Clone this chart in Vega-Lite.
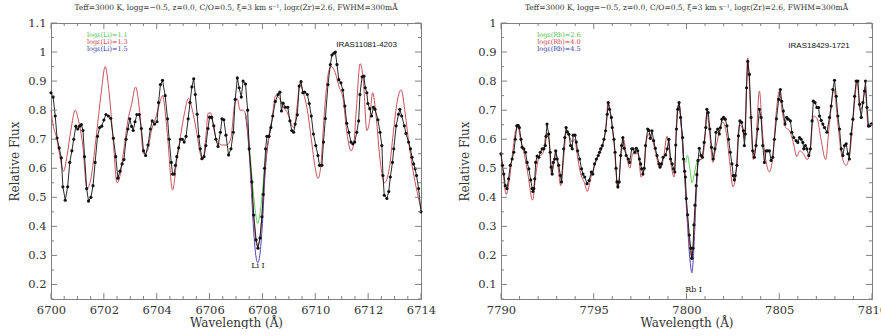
{
  "$schema": "https://vega.github.io/schema/vega-lite/v6.json",
  "background": "white",
  "padding": {"left": 8, "top": 3, "right": 0, "bottom": 0},
  "bounds": "flush",
  "spacing": 80,
  "datasets": {
    "tXL": [{"v":6700},{"v":6700.5},{"v":6701},{"v":6701.5},{"v":6702},{"v":6702.5},{"v":6703},{"v":6703.5},{"v":6704},{"v":6704.5},{"v":6705},{"v":6705.5},{"v":6706},{"v":6706.5},{"v":6707},{"v":6707.5},{"v":6708},{"v":6708.5},{"v":6709},{"v":6709.5},{"v":6710},{"v":6710.5},{"v":6711},{"v":6711.5},{"v":6712},{"v":6712.5},{"v":6713},{"v":6713.5},{"v":6714}],
    "tYL": [{"v":0.15},{"v":0.2},{"v":0.25},{"v":0.3},{"v":0.35},{"v":0.4},{"v":0.45},{"v":0.5},{"v":0.55},{"v":0.6},{"v":0.65},{"v":0.7},{"v":0.75},{"v":0.8},{"v":0.85},{"v":0.9},{"v":0.95},{"v":1},{"v":1.05},{"v":1.1}],
    "tXR": [{"v":7790},{"v":7791},{"v":7792},{"v":7793},{"v":7794},{"v":7795},{"v":7796},{"v":7797},{"v":7798},{"v":7799},{"v":7800},{"v":7801},{"v":7802},{"v":7803},{"v":7804},{"v":7805},{"v":7806},{"v":7807},{"v":7808},{"v":7809},{"v":7810}],
    "tYR": [{"v":0.05},{"v":0.1},{"v":0.15},{"v":0.2},{"v":0.25},{"v":0.3},{"v":0.35},{"v":0.4},{"v":0.45},{"v":0.5},{"v":0.55},{"v":0.6},{"v":0.65},{"v":0.7},{"v":0.75},{"v":0.8},{"v":0.85},{"v":0.9},{"v":0.95},{"v":1}],
    "obsL": [
      {"w":6700.00,"f":0.86},{"w":6700.08,"f":0.845},{"w":6700.16,"f":0.78},{"w":6700.23,"f":0.704},{"w":6700.31,"f":0.67},{"w":6700.39,"f":0.636},{"w":6700.45,"f":0.536},{"w":6700.54,"f":0.49},{"w":6700.63,"f":0.536},{"w":6700.71,"f":0.62},{"w":6700.79,"f":0.66},{"w":6700.86,"f":0.70},{"w":6700.94,"f":0.745},{"w":6701.01,"f":0.735},{"w":6701.08,"f":0.745},{"w":6701.15,"f":0.75},{"w":6701.21,"f":0.73},{"w":6701.27,"f":0.64},{"w":6701.35,"f":0.53},{"w":6701.42,"f":0.487},{"w":6701.51,"f":0.50},{"w":6701.59,"f":0.54},{"w":6701.67,"f":0.62},{"w":6701.76,"f":0.71},{"w":6701.84,"f":0.74},{"w":6701.92,"f":0.745},{"w":6702.00,"f":0.766},{"w":6702.08,"f":0.785},{"w":6702.17,"f":0.78},{"w":6702.26,"f":0.772},{"w":6702.36,"f":0.703},{"w":6702.45,"f":0.64},{"w":6702.53,"f":0.566},{"w":6702.61,"f":0.59},{"w":6702.69,"f":0.615},{"w":6702.76,"f":0.63},{"w":6702.84,"f":0.70},{"w":6702.91,"f":0.735},{"w":6702.98,"f":0.77},{"w":6703.05,"f":0.744},{"w":6703.11,"f":0.73},{"w":6703.18,"f":0.76},{"w":6703.25,"f":0.785},{"w":6703.34,"f":0.785},{"w":6703.42,"f":0.737},{"w":6703.50,"f":0.66},{"w":6703.58,"f":0.644},{"w":6703.67,"f":0.68},{"w":6703.76,"f":0.735},{"w":6703.83,"f":0.763},{"w":6703.92,"f":0.752},{"w":6704.01,"f":0.76},{"w":6704.07,"f":0.826},{"w":6704.14,"f":0.888},{"w":6704.22,"f":0.903},{"w":6704.32,"f":0.85},{"w":6704.41,"f":0.77},{"w":6704.47,"f":0.70},{"w":6704.55,"f":0.62},{"w":6704.60,"f":0.58},{"w":6704.66,"f":0.58},{"w":6704.71,"f":0.61},{"w":6704.76,"f":0.64},{"w":6704.83,"f":0.67},{"w":6704.90,"f":0.70},{"w":6704.97,"f":0.70},{"w":6705.04,"f":0.69},{"w":6705.11,"f":0.71},{"w":6705.19,"f":0.77},{"w":6705.26,"f":0.826},{"w":6705.33,"f":0.88},{"w":6705.40,"f":0.908},{"w":6705.46,"f":0.854},{"w":6705.53,"f":0.786},{"w":6705.59,"f":0.71},{"w":6705.65,"f":0.667},{"w":6705.71,"f":0.633},{"w":6705.79,"f":0.64},{"w":6705.86,"f":0.678},{"w":6705.94,"f":0.737},{"w":6706.00,"f":0.776},{"w":6706.08,"f":0.775},{"w":6706.16,"f":0.746},{"w":6706.24,"f":0.70},{"w":6706.32,"f":0.675},{"w":6706.41,"f":0.724},{"w":6706.47,"f":0.77},{"w":6706.54,"f":0.767},{"w":6706.62,"f":0.714},{"w":6706.72,"f":0.646},{"w":6706.81,"f":0.667},{"w":6706.90,"f":0.724},{"w":6706.97,"f":0.837},{"w":6707.05,"f":0.911},{"w":6707.12,"f":0.877},{"w":6707.20,"f":0.845},{"w":6707.27,"f":0.90},{"w":6707.36,"f":0.89},{"w":6707.44,"f":0.80},{"w":6707.50,"f":0.667},{"w":6707.60,"f":0.553},{"w":6707.67,"f":0.439},{"w":6707.76,"f":0.354},{"w":6707.83,"f":0.325},{"w":6707.91,"f":0.36},{"w":6707.98,"f":0.433},{"w":6708.03,"f":0.51},{"w":6708.08,"f":0.60},{"w":6708.12,"f":0.667},{"w":6708.17,"f":0.71},{"w":6708.25,"f":0.71},{"w":6708.32,"f":0.74},{"w":6708.39,"f":0.78},{"w":6708.49,"f":0.83},{"w":6708.59,"f":0.854},{"w":6708.66,"f":0.862},{"w":6708.72,"f":0.797},{"w":6708.78,"f":0.824},{"w":6708.87,"f":0.81},{"w":6708.96,"f":0.81},{"w":6709.04,"f":0.763},{"w":6709.11,"f":0.73},{"w":6709.18,"f":0.724},{"w":6709.24,"f":0.752},{"w":6709.32,"f":0.784},{"w":6709.39,"f":0.883},{"w":6709.46,"f":0.898},{"w":6709.53,"f":0.86},{"w":6709.60,"f":0.862},{"w":6709.70,"f":0.854},{"w":6709.77,"f":0.823},{"w":6709.85,"f":0.78},{"w":6709.93,"f":0.718},{"w":6710.02,"f":0.678},{"w":6710.10,"f":0.644},{"w":6710.16,"f":0.61},{"w":6710.25,"f":0.61},{"w":6710.31,"f":0.69},{"w":6710.38,"f":0.771},{"w":6710.48,"f":0.888},{"w":6710.57,"f":0.957},{"w":6710.63,"f":0.99},{"w":6710.70,"f":0.996},{"w":6710.76,"f":1.0},{"w":6710.82,"f":0.957},{"w":6710.89,"f":0.905},{"w":6710.97,"f":0.894},{"w":6711.04,"f":0.869},{"w":6711.12,"f":0.814},{"w":6711.19,"f":0.755},{"w":6711.27,"f":0.724},{"w":6711.35,"f":0.69},{"w":6711.42,"f":0.684},{"w":6711.49,"f":0.69},{"w":6711.57,"f":0.724},{"w":6711.64,"f":0.763},{"w":6711.69,"f":0.854},{"w":6711.77,"f":0.915},{"w":6711.84,"f":0.917},{"w":6711.89,"f":0.877},{"w":6711.95,"f":0.86},{"w":6711.99,"f":0.823},{"w":6712.06,"f":0.805},{"w":6712.13,"f":0.78},{"w":6712.20,"f":0.81},{"w":6712.26,"f":0.803},{"w":6712.37,"f":0.767},{"w":6712.45,"f":0.724},{"w":6712.52,"f":0.678},{"w":6712.56,"f":0.575},{"w":6712.61,"f":0.507},{"w":6712.71,"f":0.496},{"w":6712.78,"f":0.52},{"w":6712.84,"f":0.57},{"w":6712.92,"f":0.62},{"w":6712.97,"f":0.667},{"w":6713.06,"f":0.746},{"w":6713.15,"f":0.786},{"w":6713.20,"f":0.803},{"w":6713.27,"f":0.78},{"w":6713.37,"f":0.746},{"w":6713.43,"f":0.72},{"w":6713.53,"f":0.69},{"w":6713.60,"f":0.667},{"w":6713.66,"f":0.638},{"w":6713.72,"f":0.615},{"w":6713.78,"f":0.598},{"w":6713.83,"f":0.575},{"w":6713.91,"f":0.53},{"w":6714.00,"f":0.45}
    ],
    "modL": [
      {"m":"g","w":6707.35,"f":0.79},{"m":"g","w":6707.45,"f":0.73},{"m":"g","w":6707.55,"f":0.63},{"m":"g","w":6707.65,"f":0.52},{"m":"g","w":6707.75,"f":0.44},{"m":"g","w":6707.82,"f":0.41},{"m":"g","w":6707.90,"f":0.44},{"m":"g","w":6708.00,"f":0.52},{"m":"g","w":6708.10,"f":0.62},{"m":"g","w":6708.20,"f":0.68},{"m":"g","w":6708.35,"f":0.76},
      {"m":"b","w":6707.35,"f":0.79},{"m":"b","w":6707.45,"f":0.71},{"m":"b","w":6707.55,"f":0.58},{"m":"b","w":6707.65,"f":0.41},{"m":"b","w":6707.75,"f":0.30},{"m":"b","w":6707.82,"f":0.275},{"m":"b","w":6707.90,"f":0.30},{"m":"b","w":6708.00,"f":0.41},{"m":"b","w":6708.10,"f":0.58},{"m":"b","w":6708.20,"f":0.68},{"m":"b","w":6708.35,"f":0.76},
      {"m":"r","w":6700.00,"f":0.80},{"m":"r","w":6700.10,"f":0.74},{"m":"r","w":6700.20,"f":0.71},{"m":"r","w":6700.30,"f":0.66},{"m":"r","w":6700.48,"f":0.59},{"m":"r","w":6700.60,"f":0.64},{"m":"r","w":6700.75,"f":0.73},{"m":"r","w":6700.92,"f":0.80},{"m":"r","w":6701.05,"f":0.76},{"m":"r","w":6701.20,"f":0.68},{"m":"r","w":6701.36,"f":0.53},{"m":"r","w":6701.50,"f":0.56},{"m":"r","w":6701.70,"f":0.70},{"m":"r","w":6701.90,"f":0.86},{"m":"r","w":6702.05,"f":0.95},{"m":"r","w":6702.20,"f":0.86},{"m":"r","w":6702.35,"f":0.70},{"m":"r","w":6702.50,"f":0.55},{"m":"r","w":6702.60,"f":0.57},{"m":"r","w":6702.75,"f":0.66},{"m":"r","w":6702.90,"f":0.76},{"m":"r","w":6703.05,"f":0.82},{"m":"r","w":6703.20,"f":0.88},{"m":"r","w":6703.35,"f":0.80},{"m":"r","w":6703.50,"f":0.65},{"m":"r","w":6703.65,"f":0.66},{"m":"r","w":6703.80,"f":0.73},{"m":"r","w":6703.95,"f":0.77},{"m":"r","w":6704.10,"f":0.82},{"m":"r","w":6704.22,"f":0.85},{"m":"r","w":6704.40,"f":0.72},{"m":"r","w":6704.60,"f":0.525},{"m":"r","w":6704.75,"f":0.62},{"m":"r","w":6704.90,"f":0.71},{"m":"r","w":6705.05,"f":0.79},{"m":"r","w":6705.20,"f":0.84},{"m":"r","w":6705.35,"f":0.80},{"m":"r","w":6705.50,"f":0.73},{"m":"r","w":6705.65,"f":0.65},{"m":"r","w":6705.75,"f":0.63},{"m":"r","w":6705.85,"f":0.70},{"m":"r","w":6705.95,"f":0.79},{"m":"r","w":6706.05,"f":0.79},{"m":"r","w":6706.15,"f":0.74},{"m":"r","w":6706.30,"f":0.69},{"m":"r","w":6706.50,"f":0.68},{"m":"r","w":6706.65,"f":0.68},{"m":"r","w":6706.80,"f":0.70},{"m":"r","w":6706.95,"f":0.82},{"m":"r","w":6707.05,"f":0.84},{"m":"r","w":6707.15,"f":0.80},{"m":"r","w":6707.25,"f":0.80},{"m":"r","w":6707.35,"f":0.79},{"m":"r","w":6707.45,"f":0.72},{"m":"r","w":6707.55,"f":0.60},{"m":"r","w":6707.65,"f":0.46},{"m":"r","w":6707.75,"f":0.35},{"m":"r","w":6707.82,"f":0.33},{"m":"r","w":6707.90,"f":0.36},{"m":"r","w":6708.00,"f":0.46},{"m":"r","w":6708.10,"f":0.60},{"m":"r","w":6708.20,"f":0.68},{"m":"r","w":6708.35,"f":0.76},{"m":"r","w":6708.50,"f":0.85},{"m":"r","w":6708.65,"f":0.84},{"m":"r","w":6708.80,"f":0.81},{"m":"r","w":6708.95,"f":0.79},{"m":"r","w":6709.10,"f":0.75},{"m":"r","w":6709.20,"f":0.74},{"m":"r","w":6709.32,"f":0.82},{"m":"r","w":6709.42,"f":0.89},{"m":"r","w":6709.55,"f":0.86},{"m":"r","w":6709.70,"f":0.80},{"m":"r","w":6709.85,"f":0.70},{"m":"r","w":6710.00,"f":0.60},{"m":"r","w":6710.10,"f":0.565},{"m":"r","w":6710.20,"f":0.60},{"m":"r","w":6710.35,"f":0.80},{"m":"r","w":6710.50,"f":0.93},{"m":"r","w":6710.60,"f":0.95},{"m":"r","w":6710.75,"f":0.93},{"m":"r","w":6710.90,"f":0.88},{"m":"r","w":6711.05,"f":0.84},{"m":"r","w":6711.20,"f":0.72},{"m":"r","w":6711.35,"f":0.66},{"m":"r","w":6711.45,"f":0.68},{"m":"r","w":6711.55,"f":0.80},{"m":"r","w":6711.70,"f":0.96},{"m":"r","w":6711.82,"f":0.90},{"m":"r","w":6711.95,"f":0.73},{"m":"r","w":6712.05,"f":0.76},{"m":"r","w":6712.17,"f":0.86},{"m":"r","w":6712.30,"f":0.78},{"m":"r","w":6712.45,"f":0.63},{"m":"r","w":6712.62,"f":0.55},{"m":"r","w":6712.80,"f":0.60},{"m":"r","w":6712.95,"f":0.72},{"m":"r","w":6713.10,"f":0.83},{"m":"r","w":6713.25,"f":0.87},{"m":"r","w":6713.40,"f":0.79},{"m":"r","w":6713.55,"f":0.68},{"m":"r","w":6713.70,"f":0.59},{"m":"r","w":6713.85,"f":0.52},{"m":"r","w":6714.00,"f":0.46}
    ],
    "obsR": [
      {"w":7790.00,"f":0.55},{"w":7790.08,"f":0.51},{"w":7790.15,"f":0.48},{"w":7790.23,"f":0.44},{"w":7790.32,"f":0.43},{"w":7790.41,"f":0.464},{"w":7790.50,"f":0.51},{"w":7790.60,"f":0.532},{"w":7790.69,"f":0.555},{"w":7790.77,"f":0.60},{"w":7790.85,"f":0.646},{"w":7790.92,"f":0.648},{"w":7790.99,"f":0.64},{"w":7791.08,"f":0.60},{"w":7791.14,"f":0.572},{"w":7791.23,"f":0.567},{"w":7791.32,"f":0.555},{"w":7791.41,"f":0.52},{"w":7791.50,"f":0.498},{"w":7791.60,"f":0.46},{"w":7791.68,"f":0.43},{"w":7791.72,"f":0.42},{"w":7791.77,"f":0.43},{"w":7791.82,"f":0.464},{"w":7791.87,"f":0.52},{"w":7791.95,"f":0.542},{"w":7792.04,"f":0.538},{"w":7792.12,"f":0.555},{"w":7792.22,"f":0.567},{"w":7792.31,"f":0.567},{"w":7792.39,"f":0.578},{"w":7792.43,"f":0.61},{"w":7792.48,"f":0.652},{"w":7792.57,"f":0.618},{"w":7792.65,"f":0.555},{"w":7792.70,"f":0.504},{"w":7792.76,"f":0.48},{"w":7792.82,"f":0.52},{"w":7792.89,"f":0.532},{"w":7792.95,"f":0.56},{"w":7793.03,"f":0.532},{"w":7793.11,"f":0.51},{"w":7793.20,"f":0.475},{"w":7793.26,"f":0.453},{"w":7793.38,"f":0.567},{"w":7793.44,"f":0.606},{"w":7793.51,"f":0.64},{"w":7793.58,"f":0.625},{"w":7793.66,"f":0.617},{"w":7793.75,"f":0.578},{"w":7793.84,"f":0.567},{"w":7793.89,"f":0.614},{"w":7793.99,"f":0.614},{"w":7794.06,"f":0.59},{"w":7794.13,"f":0.56},{"w":7794.24,"f":0.532},{"w":7794.34,"f":0.498},{"w":7794.42,"f":0.48},{"w":7794.51,"f":0.47},{"w":7794.64,"f":0.447},{"w":7794.75,"f":0.458},{"w":7794.87,"f":0.487},{"w":7794.95,"f":0.48},{"w":7795.04,"f":0.515},{"w":7795.14,"f":0.532},{"w":7795.24,"f":0.544},{"w":7795.31,"f":0.555},{"w":7795.37,"f":0.567},{"w":7795.46,"f":0.578},{"w":7795.55,"f":0.60},{"w":7795.64,"f":0.629},{"w":7795.73,"f":0.686},{"w":7795.78,"f":0.726},{"w":7795.85,"f":0.703},{"w":7795.95,"f":0.675},{"w":7796.00,"f":0.64},{"w":7796.09,"f":0.60},{"w":7796.15,"f":0.555},{"w":7796.20,"f":0.50},{"w":7796.25,"f":0.453},{"w":7796.30,"f":0.436},{"w":7796.37,"f":0.453},{"w":7796.45,"f":0.544},{"w":7796.50,"f":0.578},{"w":7796.57,"f":0.606},{"w":7796.64,"f":0.569},{"w":7796.75,"f":0.544},{"w":7796.86,"f":0.532},{"w":7796.93,"f":0.52},{"w":7797.05,"f":0.567},{"w":7797.12,"f":0.567},{"w":7797.21,"f":0.555},{"w":7797.30,"f":0.569},{"w":7797.37,"f":0.56},{"w":7797.46,"f":0.532},{"w":7797.53,"f":0.515},{"w":7797.58,"f":0.498},{"w":7797.65,"f":0.48},{"w":7797.72,"f":0.50},{"w":7797.79,"f":0.578},{"w":7797.91,"f":0.635},{"w":7797.98,"f":0.63},{"w":7798.05,"f":0.603},{"w":7798.14,"f":0.629},{"w":7798.23,"f":0.595},{"w":7798.32,"f":0.569},{"w":7798.41,"f":0.544},{"w":7798.52,"f":0.515},{"w":7798.58,"f":0.504},{"w":7798.65,"f":0.515},{"w":7798.74,"f":0.538},{"w":7798.87,"f":0.546},{"w":7798.96,"f":0.567},{"w":7799.05,"f":0.60},{"w":7799.14,"f":0.532},{"w":7799.23,"f":0.515},{"w":7799.30,"f":0.498},{"w":7799.37,"f":0.487},{"w":7799.42,"f":0.58},{"w":7799.46,"f":0.635},{"w":7799.53,"f":0.703},{"w":7799.60,"f":0.726},{"w":7799.68,"f":0.675},{"w":7799.79,"f":0.606},{"w":7799.84,"f":0.532},{"w":7799.90,"f":0.49},{"w":7799.94,"f":0.47},{"w":7799.99,"f":0.396},{"w":7800.06,"f":0.34},{"w":7800.15,"f":0.27},{"w":7800.23,"f":0.225},{"w":7800.29,"f":0.19},{"w":7800.35,"f":0.225},{"w":7800.40,"f":0.305},{"w":7800.46,"f":0.373},{"w":7800.52,"f":0.44},{"w":7800.56,"f":0.478},{"w":7800.62,"f":0.527},{"w":7800.69,"f":0.569},{"w":7800.78,"f":0.544},{"w":7800.86,"f":0.538},{"w":7800.95,"f":0.589},{"w":7801.04,"f":0.64},{"w":7801.10,"f":0.703},{"w":7801.17,"f":0.692},{"w":7801.26,"f":0.635},{"w":7801.35,"f":0.572},{"w":7801.44,"f":0.532},{"w":7801.53,"f":0.567},{"w":7801.59,"f":0.624},{"w":7801.68,"f":0.635},{"w":7801.77,"f":0.618},{"w":7801.83,"f":0.64},{"w":7801.91,"f":0.669},{"w":7802.00,"f":0.675},{"w":7802.09,"f":0.669},{"w":7802.18,"f":0.646},{"w":7802.27,"f":0.60},{"w":7802.36,"f":0.555},{"w":7802.45,"f":0.515},{"w":7802.52,"f":0.475},{"w":7802.58,"f":0.46},{"w":7802.63,"f":0.475},{"w":7802.72,"f":0.51},{"w":7802.80,"f":0.612},{"w":7802.88,"f":0.663},{"w":7802.97,"f":0.658},{"w":7803.07,"f":0.629},{"w":7803.12,"f":0.578},{"w":7803.17,"f":0.618},{"w":7803.24,"f":0.777},{"w":7803.30,"f":0.868},{"w":7803.39,"f":0.823},{"w":7803.48,"f":0.675},{"w":7803.57,"f":0.56},{"w":7803.66,"f":0.538},{"w":7803.75,"f":0.578},{"w":7803.84,"f":0.635},{"w":7803.93,"f":0.703},{"w":7804.02,"f":0.675},{"w":7804.11,"f":0.578},{"w":7804.20,"f":0.52},{"w":7804.29,"f":0.56},{"w":7804.38,"f":0.56},{"w":7804.47,"f":0.56},{"w":7804.56,"f":0.527},{"w":7804.65,"f":0.538},{"w":7804.74,"f":0.60},{"w":7804.85,"f":0.67},{"w":7804.97,"f":0.737},{"w":7805.06,"f":0.771},{"w":7805.13,"f":0.731},{"w":7805.22,"f":0.697},{"w":7805.31,"f":0.652},{"w":7805.40,"f":0.675},{"w":7805.49,"f":0.669},{"w":7805.60,"f":0.663},{"w":7805.68,"f":0.624},{"w":7805.78,"f":0.606},{"w":7805.91,"f":0.595},{"w":7806.00,"f":0.589},{"w":7806.09,"f":0.606},{"w":7806.18,"f":0.60},{"w":7806.27,"f":0.589},{"w":7806.32,"f":0.567},{"w":7806.41,"f":0.578},{"w":7806.49,"f":0.567},{"w":7806.59,"f":0.544},{"w":7806.68,"f":0.567},{"w":7806.77,"f":0.663},{"w":7806.84,"f":0.731},{"w":7806.93,"f":0.726},{"w":7807.03,"f":0.709},{"w":7807.12,"f":0.709},{"w":7807.17,"f":0.68},{"w":7807.26,"f":0.665},{"w":7807.35,"f":0.652},{"w":7807.44,"f":0.64},{"w":7807.57,"f":0.624},{"w":7807.71,"f":0.675},{"w":7807.80,"f":0.714},{"w":7807.89,"f":0.771},{"w":7807.98,"f":0.803},{"w":7808.07,"f":0.748},{"w":7808.16,"f":0.68},{"w":7808.25,"f":0.635},{"w":7808.34,"f":0.567},{"w":7808.43,"f":0.544},{"w":7808.52,"f":0.578},{"w":7808.61,"f":0.584},{"w":7808.70,"f":0.55},{"w":7808.78,"f":0.532},{"w":7808.87,"f":0.618},{"w":7808.97,"f":0.669},{"w":7809.06,"f":0.748},{"w":7809.15,"f":0.80},{"w":7809.24,"f":0.80},{"w":7809.33,"f":0.72},{"w":7809.42,"f":0.675},{"w":7809.51,"f":0.726},{"w":7809.60,"f":0.766},{"w":7809.65,"f":0.80},{"w":7809.73,"f":0.709},{"w":7809.81,"f":0.646},{"w":7809.88,"f":0.646},{"w":7809.95,"f":0.652}
    ],
    "modR": [
      {"m":"g","w":7799.50,"f":0.70},{"m":"g","w":7799.60,"f":0.72},{"m":"g","w":7799.75,"f":0.62},{"m":"g","w":7799.85,"f":0.53},{"m":"g","w":7799.95,"f":0.52},{"m":"g","w":7800.05,"f":0.545},{"m":"g","w":7800.18,"f":0.50},{"m":"g","w":7800.30,"f":0.45},{"m":"g","w":7800.42,"f":0.48},{"m":"g","w":7800.55,"f":0.52},{"m":"g","w":7800.65,"f":0.53},{"m":"g","w":7800.80,"f":0.53},
      {"m":"b","w":7799.50,"f":0.70},{"m":"b","w":7799.60,"f":0.72},{"m":"b","w":7799.75,"f":0.62},{"m":"b","w":7799.90,"f":0.47},{"m":"b","w":7800.05,"f":0.31},{"m":"b","w":7800.18,"f":0.19},{"m":"b","w":7800.29,"f":0.14},{"m":"b","w":7800.40,"f":0.23},{"m":"b","w":7800.52,"f":0.40},{"m":"b","w":7800.65,"f":0.53},{"m":"b","w":7800.80,"f":0.53},
      {"m":"r","w":7790.00,"f":0.55},{"m":"r","w":7790.12,"f":0.48},{"m":"r","w":7790.28,"f":0.41},{"m":"r","w":7790.45,"f":0.46},{"m":"r","w":7790.62,"f":0.55},{"m":"r","w":7790.80,"f":0.63},{"m":"r","w":7790.92,"f":0.64},{"m":"r","w":7791.05,"f":0.60},{"m":"r","w":7791.25,"f":0.55},{"m":"r","w":7791.45,"f":0.48},{"m":"r","w":7791.70,"f":0.39},{"m":"r","w":7791.88,"f":0.48},{"m":"r","w":7792.05,"f":0.54},{"m":"r","w":7792.25,"f":0.55},{"m":"r","w":7792.45,"f":0.62},{"m":"r","w":7792.58,"f":0.60},{"m":"r","w":7792.72,"f":0.48},{"m":"r","w":7792.85,"f":0.52},{"m":"r","w":7792.95,"f":0.56},{"m":"r","w":7793.05,"f":0.52},{"m":"r","w":7793.22,"f":0.44},{"m":"r","w":7793.40,"f":0.55},{"m":"r","w":7793.52,"f":0.63},{"m":"r","w":7793.68,"f":0.61},{"m":"r","w":7793.85,"f":0.59},{"m":"r","w":7793.98,"f":0.60},{"m":"r","w":7794.10,"f":0.55},{"m":"r","w":7794.30,"f":0.48},{"m":"r","w":7794.50,"f":0.45},{"m":"r","w":7794.65,"f":0.42},{"m":"r","w":7794.85,"f":0.47},{"m":"r","w":7795.05,"f":0.51},{"m":"r","w":7795.30,"f":0.55},{"m":"r","w":7795.50,"f":0.58},{"m":"r","w":7795.65,"f":0.64},{"m":"r","w":7795.78,"f":0.73},{"m":"r","w":7795.92,"f":0.68},{"m":"r","w":7796.10,"f":0.58},{"m":"r","w":7796.30,"f":0.43},{"m":"r","w":7796.48,"f":0.55},{"m":"r","w":7796.60,"f":0.60},{"m":"r","w":7796.75,"f":0.55},{"m":"r","w":7796.95,"f":0.50},{"m":"r","w":7797.10,"f":0.55},{"m":"r","w":7797.25,"f":0.55},{"m":"r","w":7797.40,"f":0.55},{"m":"r","w":7797.55,"f":0.47},{"m":"r","w":7797.70,"f":0.49},{"m":"r","w":7797.85,"f":0.60},{"m":"r","w":7798.00,"f":0.62},{"m":"r","w":7798.15,"f":0.60},{"m":"r","w":7798.35,"f":0.55},{"m":"r","w":7798.55,"f":0.50},{"m":"r","w":7798.75,"f":0.53},{"m":"r","w":7798.95,"f":0.61},{"m":"r","w":7799.15,"f":0.52},{"m":"r","w":7799.33,"f":0.47},{"m":"r","w":7799.50,"f":0.70},{"m":"r","w":7799.60,"f":0.72},{"m":"r","w":7799.75,"f":0.62},{"m":"r","w":7799.90,"f":0.48},{"m":"r","w":7800.05,"f":0.33},{"m":"r","w":7800.18,"f":0.23},{"m":"r","w":7800.29,"f":0.19},{"m":"r","w":7800.40,"f":0.27},{"m":"r","w":7800.52,"f":0.42},{"m":"r","w":7800.65,"f":0.53},{"m":"r","w":7800.80,"f":0.53},{"m":"r","w":7800.95,"f":0.57},{"m":"r","w":7801.10,"f":0.69},{"m":"r","w":7801.25,"f":0.62},{"m":"r","w":7801.42,"f":0.52},{"m":"r","w":7801.55,"f":0.56},{"m":"r","w":7801.75,"f":0.62},{"m":"r","w":7801.95,"f":0.66},{"m":"r","w":7802.15,"f":0.62},{"m":"r","w":7802.35,"f":0.51},{"m":"r","w":7802.50,"f":0.436},{"m":"r","w":7802.65,"f":0.47},{"m":"r","w":7802.85,"f":0.65},{"m":"r","w":7803.00,"f":0.64},{"m":"r","w":7803.12,"f":0.60},{"m":"r","w":7803.30,"f":0.88},{"m":"r","w":7803.45,"f":0.70},{"m":"r","w":7803.60,"f":0.53},{"m":"r","w":7803.75,"f":0.60},{"m":"r","w":7803.93,"f":0.766},{"m":"r","w":7804.10,"f":0.62},{"m":"r","w":7804.30,"f":0.52},{"m":"r","w":7804.47,"f":0.487},{"m":"r","w":7804.65,"f":0.54},{"m":"r","w":7804.85,"f":0.70},{"m":"r","w":7805.00,"f":0.766},{"m":"r","w":7805.15,"f":0.70},{"m":"r","w":7805.35,"f":0.64},{"m":"r","w":7805.55,"f":0.63},{"m":"r","w":7805.75,"f":0.59},{"m":"r","w":7805.95,"f":0.54},{"m":"r","w":7806.10,"f":0.56},{"m":"r","w":7806.30,"f":0.55},{"m":"r","w":7806.50,"f":0.53},{"m":"r","w":7806.65,"f":0.55},{"m":"r","w":7806.85,"f":0.68},{"m":"r","w":7807.05,"f":0.67},{"m":"r","w":7807.25,"f":0.60},{"m":"r","w":7807.50,"f":0.53},{"m":"r","w":7807.70,"f":0.65},{"m":"r","w":7807.95,"f":0.77},{"m":"r","w":7808.15,"f":0.66},{"m":"r","w":7808.35,"f":0.55},{"m":"r","w":7808.60,"f":0.51},{"m":"r","w":7808.80,"f":0.55},{"m":"r","w":7809.05,"f":0.72},{"m":"r","w":7809.20,"f":0.80},{"m":"r","w":7809.35,"f":0.70},{"m":"r","w":7809.50,"f":0.72},{"m":"r","w":7809.62,"f":0.78},{"m":"r","w":7809.80,"f":0.64},{"m":"r","w":7810.00,"f":0.66}
    ]
  },
  "hconcat": [
    {
      "width": 370,
      "height": 276,
      "title": {"text": "Teff=3000 K, logg=−0.5, z=0.0, C/O=0.5, ξ=3 km s⁻¹, logε(Zr)=2.6, FWHM=300mÅ"},
      "layer": [
        {
          "data": {"name": "modL"},
          "transform": [{"filter": "datum.m == 'g'"}],
          "mark": {"type": "line", "color": "#5fcf5f", "strokeWidth": 1, "interpolate": "monotone"},
          "encoding": {
            "x": {"field": "w", "type": "quantitative", "scale": {"domain": [6700, 6714], "nice": false, "zero": false},
              "axis": {"orient": "bottom", "title": "Wavelength (Å)", "values": [6700,6702,6704,6706,6708,6710,6712,6714], "format": "d", "ticks": false, "labelPadding": 5, "titlePadding": 2}},
            "y": {"field": "f", "type": "quantitative", "scale": {"domain": [0.15, 1.1], "nice": false, "zero": false},
              "axis": {"orient": "left", "title": "Relative Flux", "values": [0.2,0.3,0.4,0.5,0.6,0.7,0.8,0.9,1,1.1], "format": "~g", "ticks": false, "labelPadding": 5, "titlePadding": 6}}
          }
        },
        {
          "data": {"name": "modL"},
          "transform": [{"filter": "datum.m == 'b'"}],
          "mark": {"type": "line", "color": "#4a45b5", "strokeWidth": 1, "interpolate": "monotone"},
          "encoding": {
            "x": {"field": "w", "type": "quantitative", "axis": {"orient": "top", "title": null, "labels": false, "ticks": false, "domain": true, "domainColor": "#808080"}},
            "y": {"field": "f", "type": "quantitative", "axis": {"orient": "right", "title": null, "labels": false, "ticks": false, "domain": true, "domainColor": "#808080"}}
          }
        },
        {
          "data": {"name": "modL"},
          "transform": [{"filter": "datum.m == 'r'"}],
          "mark": {"type": "line", "color": "#c8525a", "strokeWidth": 1, "interpolate": "monotone"},
          "encoding": {"x": {"field": "w", "type": "quantitative", "axis": null}, "y": {"field": "f", "type": "quantitative", "axis": null}}
        },
        {
          "data": {"name": "obsL"},
          "mark": {"type": "line", "color": "#111111", "strokeWidth": 0.9},
          "encoding": {"x": {"field": "w", "type": "quantitative", "axis": null}, "y": {"field": "f", "type": "quantitative", "axis": null}}
        },
        {
          "data": {"name": "obsL"},
          "mark": {"type": "point", "filled": true, "color": "#111111", "size": 10, "opacity": 1},
          "encoding": {"x": {"field": "w", "type": "quantitative", "axis": null}, "y": {"field": "f", "type": "quantitative", "axis": null}}
        },
        {
          "data": {"name": "tXL"}, "transform": [{"filter": "datum.v % 2 == 0"}],
          "mark": {"type": "rule", "color": "#808080", "strokeWidth": 1},
          "encoding": {"x": {"field": "v", "type": "quantitative", "axis": null}, "y": {"datum": 0.15, "type": "quantitative", "axis": null}, "y2": {"datum": 0.1707}}
        },
        {
          "data": {"name": "tXL"}, "transform": [{"filter": "datum.v % 2 != 0"}],
          "mark": {"type": "rule", "color": "#808080", "strokeWidth": 1},
          "encoding": {"x": {"field": "v", "type": "quantitative", "axis": null}, "y": {"datum": 0.15, "type": "quantitative", "axis": null}, "y2": {"datum": 0.1603}}
        },
        {
          "data": {"name": "tXL"}, "transform": [{"filter": "datum.v % 2 == 0"}],
          "mark": {"type": "rule", "color": "#808080", "strokeWidth": 1},
          "encoding": {"x": {"field": "v", "type": "quantitative", "axis": null}, "y": {"datum": 1.1, "type": "quantitative", "axis": null}, "y2": {"datum": 1.0793}}
        },
        {
          "data": {"name": "tXL"}, "transform": [{"filter": "datum.v % 2 != 0"}],
          "mark": {"type": "rule", "color": "#808080", "strokeWidth": 1},
          "encoding": {"x": {"field": "v", "type": "quantitative", "axis": null}, "y": {"datum": 1.1, "type": "quantitative", "axis": null}, "y2": {"datum": 1.0897}}
        },
        {
          "data": {"name": "tYL"}, "transform": [{"filter": "round(datum.v*100) % 10 == 0"}],
          "mark": {"type": "rule", "color": "#808080", "strokeWidth": 1},
          "encoding": {"y": {"field": "v", "type": "quantitative", "axis": null}, "x": {"datum": 6700, "type": "quantitative", "axis": null}, "x2": {"datum": 6700.227}}
        },
        {
          "data": {"name": "tYL"}, "transform": [{"filter": "round(datum.v*100) % 10 != 0"}],
          "mark": {"type": "rule", "color": "#808080", "strokeWidth": 1},
          "encoding": {"y": {"field": "v", "type": "quantitative", "axis": null}, "x": {"datum": 6700, "type": "quantitative", "axis": null}, "x2": {"datum": 6700.1135}}
        },
        {
          "data": {"name": "tYL"}, "transform": [{"filter": "round(datum.v*100) % 10 == 0"}],
          "mark": {"type": "rule", "color": "#808080", "strokeWidth": 1},
          "encoding": {"y": {"field": "v", "type": "quantitative", "axis": null}, "x": {"datum": 6714, "type": "quantitative", "axis": null}, "x2": {"datum": 6713.773}}
        },
        {
          "data": {"name": "tYL"}, "transform": [{"filter": "round(datum.v*100) % 10 != 0"}],
          "mark": {"type": "rule", "color": "#808080", "strokeWidth": 1},
          "encoding": {"y": {"field": "v", "type": "quantitative", "axis": null}, "x": {"datum": 6714, "type": "quantitative", "axis": null}, "x2": {"datum": 6713.8865}}
        },
        {
          "data": {"values": [{}]},
          "mark": {"type": "text", "align": "left", "baseline": "middle", "font": "DejaVu Serif", "fontSize": 6.5, "color": "#4cc24c"},
          "encoding": {"x": {"datum": 6701.36, "type": "quantitative", "axis": null}, "y": {"datum": 1.059, "type": "quantitative", "axis": null}, "text": {"value": "logε(Li)=1.1"}}
        },
        {
          "data": {"values": [{}]},
          "mark": {"type": "text", "align": "left", "baseline": "middle", "font": "DejaVu Serif", "fontSize": 6.5, "color": "#c8404a"},
          "encoding": {"x": {"datum": 6701.36, "type": "quantitative", "axis": null}, "y": {"datum": 1.035, "type": "quantitative", "axis": null}, "text": {"value": "logε(Li)=1.3"}}
        },
        {
          "data": {"values": [{}]},
          "mark": {"type": "text", "align": "left", "baseline": "middle", "font": "DejaVu Serif", "fontSize": 6.5, "color": "#3a35a5"},
          "encoding": {"x": {"datum": 6701.36, "type": "quantitative", "axis": null}, "y": {"datum": 1.011, "type": "quantitative", "axis": null}, "text": {"value": "logε(Li)=1.5"}}
        },
        {
          "data": {"values": [{}]},
          "mark": {"type": "text", "align": "right", "baseline": "middle", "font": "Liberation Sans", "fontSize": 8, "color": "#111111"},
          "encoding": {"x": {"datum": 6713.09, "type": "quantitative", "axis": null}, "y": {"datum": 1.025, "type": "quantitative", "axis": null}, "text": {"value": "IRAS11081-4203"}}
        },
        {
          "data": {"values": [{}]},
          "mark": {"type": "text", "align": "center", "baseline": "middle", "font": "DejaVu Serif", "fontSize": 8, "color": "#222222"},
          "encoding": {"x": {"datum": 6707.83, "type": "quantitative", "axis": null}, "y": {"datum": 0.262, "type": "quantitative", "axis": null}, "text": {"value": "Li I"}}
        }
      ]
    },
    {
      "width": 371,
      "height": 276,
      "title": {"text": "Teff=3000 K, logg=−0.5, z=0.0, C/O=0.5, ξ=3 km s⁻¹, logε(Zr)=2.6, FWHM=300mÅ"},
      "layer": [
        {
          "data": {"name": "modR"},
          "transform": [{"filter": "datum.m == 'g'"}],
          "mark": {"type": "line", "color": "#5fcf5f", "strokeWidth": 1, "interpolate": "monotone"},
          "encoding": {
            "x": {"field": "w", "type": "quantitative", "scale": {"domain": [7790, 7810], "nice": false, "zero": false},
              "axis": {"orient": "bottom", "title": "Wavelength (Å)", "values": [7790,7795,7800,7805,7810], "format": "d", "ticks": false, "labelPadding": 5, "titlePadding": 2}},
            "y": {"field": "f", "type": "quantitative", "scale": {"domain": [0.05, 1.0], "nice": false, "zero": false},
              "axis": {"orient": "left", "title": "Relative Flux", "values": [0.1,0.2,0.3,0.4,0.5,0.6,0.7,0.8,0.9,1], "format": "~g", "ticks": false, "labelPadding": 5, "titlePadding": 6}}
          }
        },
        {
          "data": {"name": "modR"},
          "transform": [{"filter": "datum.m == 'b'"}],
          "mark": {"type": "line", "color": "#4a45b5", "strokeWidth": 1, "interpolate": "monotone"},
          "encoding": {
            "x": {"field": "w", "type": "quantitative", "axis": {"orient": "top", "title": null, "labels": false, "ticks": false, "domain": true, "domainColor": "#808080"}},
            "y": {"field": "f", "type": "quantitative", "axis": {"orient": "right", "title": null, "labels": false, "ticks": false, "domain": true, "domainColor": "#808080"}}
          }
        },
        {
          "data": {"name": "modR"},
          "transform": [{"filter": "datum.m == 'r'"}],
          "mark": {"type": "line", "color": "#c8525a", "strokeWidth": 1, "interpolate": "monotone"},
          "encoding": {"x": {"field": "w", "type": "quantitative", "axis": null}, "y": {"field": "f", "type": "quantitative", "axis": null}}
        },
        {
          "data": {"name": "obsR"},
          "mark": {"type": "line", "color": "#111111", "strokeWidth": 0.9},
          "encoding": {"x": {"field": "w", "type": "quantitative", "axis": null}, "y": {"field": "f", "type": "quantitative", "axis": null}}
        },
        {
          "data": {"name": "obsR"},
          "mark": {"type": "point", "filled": true, "color": "#111111", "size": 10, "opacity": 1},
          "encoding": {"x": {"field": "w", "type": "quantitative", "axis": null}, "y": {"field": "f", "type": "quantitative", "axis": null}}
        },
        {
          "data": {"name": "tXR"}, "transform": [{"filter": "datum.v % 5 == 0"}],
          "mark": {"type": "rule", "color": "#808080", "strokeWidth": 1},
          "encoding": {"x": {"field": "v", "type": "quantitative", "axis": null}, "y": {"datum": 0.05, "type": "quantitative", "axis": null}, "y2": {"datum": 0.0707}}
        },
        {
          "data": {"name": "tXR"}, "transform": [{"filter": "datum.v % 5 != 0"}],
          "mark": {"type": "rule", "color": "#808080", "strokeWidth": 1},
          "encoding": {"x": {"field": "v", "type": "quantitative", "axis": null}, "y": {"datum": 0.05, "type": "quantitative", "axis": null}, "y2": {"datum": 0.0603}}
        },
        {
          "data": {"name": "tXR"}, "transform": [{"filter": "datum.v % 5 == 0"}],
          "mark": {"type": "rule", "color": "#808080", "strokeWidth": 1},
          "encoding": {"x": {"field": "v", "type": "quantitative", "axis": null}, "y": {"datum": 1.0, "type": "quantitative", "axis": null}, "y2": {"datum": 0.9793}}
        },
        {
          "data": {"name": "tXR"}, "transform": [{"filter": "datum.v % 5 != 0"}],
          "mark": {"type": "rule", "color": "#808080", "strokeWidth": 1},
          "encoding": {"x": {"field": "v", "type": "quantitative", "axis": null}, "y": {"datum": 1.0, "type": "quantitative", "axis": null}, "y2": {"datum": 0.9897}}
        },
        {
          "data": {"name": "tYR"}, "transform": [{"filter": "round(datum.v*100) % 10 == 0"}],
          "mark": {"type": "rule", "color": "#808080", "strokeWidth": 1},
          "encoding": {"y": {"field": "v", "type": "quantitative", "axis": null}, "x": {"datum": 7790, "type": "quantitative", "axis": null}, "x2": {"datum": 7790.323}}
        },
        {
          "data": {"name": "tYR"}, "transform": [{"filter": "round(datum.v*100) % 10 != 0"}],
          "mark": {"type": "rule", "color": "#808080", "strokeWidth": 1},
          "encoding": {"y": {"field": "v", "type": "quantitative", "axis": null}, "x": {"datum": 7790, "type": "quantitative", "axis": null}, "x2": {"datum": 7790.162}}
        },
        {
          "data": {"name": "tYR"}, "transform": [{"filter": "round(datum.v*100) % 10 == 0"}],
          "mark": {"type": "rule", "color": "#808080", "strokeWidth": 1},
          "encoding": {"y": {"field": "v", "type": "quantitative", "axis": null}, "x": {"datum": 7810, "type": "quantitative", "axis": null}, "x2": {"datum": 7809.677}}
        },
        {
          "data": {"name": "tYR"}, "transform": [{"filter": "round(datum.v*100) % 10 != 0"}],
          "mark": {"type": "rule", "color": "#808080", "strokeWidth": 1},
          "encoding": {"y": {"field": "v", "type": "quantitative", "axis": null}, "x": {"datum": 7810, "type": "quantitative", "axis": null}, "x2": {"datum": 7809.838}}
        },
        {
          "data": {"values": [{}]},
          "mark": {"type": "text", "align": "left", "baseline": "middle", "font": "DejaVu Serif", "fontSize": 6.5, "color": "#4cc24c"},
          "encoding": {"x": {"datum": 7791.95, "type": "quantitative", "axis": null}, "y": {"datum": 0.959, "type": "quantitative", "axis": null}, "text": {"value": "logε(Rb)=2.6"}}
        },
        {
          "data": {"values": [{}]},
          "mark": {"type": "text", "align": "left", "baseline": "middle", "font": "DejaVu Serif", "fontSize": 6.5, "color": "#c8404a"},
          "encoding": {"x": {"datum": 7791.95, "type": "quantitative", "axis": null}, "y": {"datum": 0.935, "type": "quantitative", "axis": null}, "text": {"value": "logε(Rb)=4.0"}}
        },
        {
          "data": {"values": [{}]},
          "mark": {"type": "text", "align": "left", "baseline": "middle", "font": "DejaVu Serif", "fontSize": 6.5, "color": "#3a35a5"},
          "encoding": {"x": {"datum": 7791.95, "type": "quantitative", "axis": null}, "y": {"datum": 0.911, "type": "quantitative", "axis": null}, "text": {"value": "logε(Rb)=4.5"}}
        },
        {
          "data": {"values": [{}]},
          "mark": {"type": "text", "align": "right", "baseline": "middle", "font": "Liberation Sans", "fontSize": 8, "color": "#111111"},
          "encoding": {"x": {"datum": 7808.8, "type": "quantitative", "axis": null}, "y": {"datum": 0.92, "type": "quantitative", "axis": null}, "text": {"value": "IRAS18429-1721"}}
        },
        {
          "data": {"values": [{}]},
          "mark": {"type": "text", "align": "center", "baseline": "middle", "font": "DejaVu Serif", "fontSize": 8, "color": "#222222"},
          "encoding": {"x": {"datum": 7800.38, "type": "quantitative", "axis": null}, "y": {"datum": 0.08, "type": "quantitative", "axis": null}, "text": {"value": "Rb I"}}
        }
      ]
    }
  ],
  "config": {
    "view": {"stroke": "#808080", "strokeWidth": 1},
    "axis": {
      "domain": false, "grid": false,
      "labelFont": "DejaVu Serif", "labelFontSize": 11.5, "labelColor": "#333333",
      "titleFont": "DejaVu Serif", "titleFontSize": 12, "titleFontWeight": "normal", "titleColor": "#333333",
      "labelFlush": false, "labelOverlap": false, "labelBound": false
    },
    "title": {"font": "DejaVu Serif", "fontSize": 7.5, "fontWeight": "normal", "color": "#333333", "offset": 6, "anchor": "middle"}
  }
}
